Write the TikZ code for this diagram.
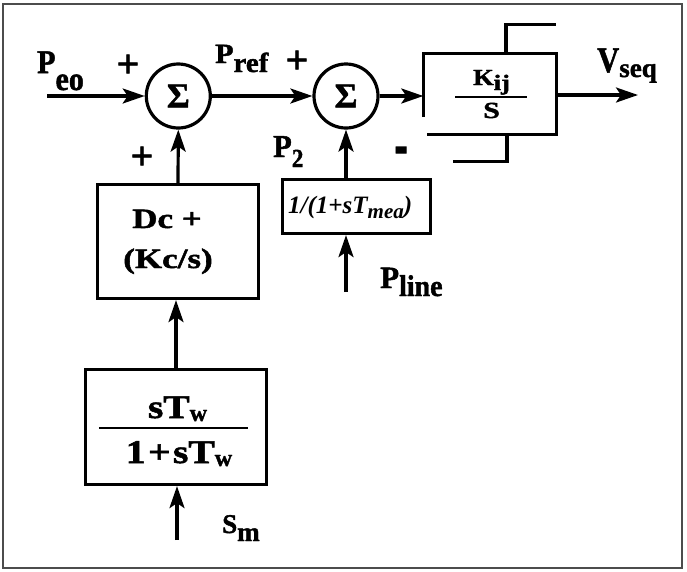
\documentclass[tikz,border=0pt]{standalone}
\usepackage{fontspec}
\setmainfont{Liberation Serif}[BoldFeatures={FakeBold=1.5}]
\usetikzlibrary{arrows.meta,calc}
\newcommand{\fs}[1]{\fontsize{#1}{#1}\selectfont}
% size, xscale, yscale, text
\newcommand{\tx}[4]{\scalebox{#2}[#3]{\fs{#1}\bfseries #4}}
\newcommand{\dn}[2]{\raisebox{-#1pt}{#2}}
\begin{document}
\begin{tikzpicture}[x=1pt,y=-1pt,
  ln/.style={line width=3.2pt},
  arr/.style={ln,-{Stealth[length=22pt,width=15pt,inset=5pt]}},
  blk/.style={draw,ln,rectangle,inner sep=0pt},
  sumn/.style={draw,ln,circle,inner sep=0pt,minimum size=64pt,font=\fs{35}\bfseries},
  txt/.style={inner sep=0pt},
  sgn/.style={inner sep=0pt,font=\fs{40}\bfseries}
]
\useasboundingbox (0,0) rectangle (687,571);
\draw[line width=1.8pt, black!70] (3,4) rectangle (682,568);

% summing junctions
\node[sumn] (s1) at (178.3,96) {Σ};
\node[sumn] (s2) at (346,96) {Σ};

% blocks
\node[blk, minimum width=161pt, minimum height=114pt] (dc) at (178,241.5) {};
\node[txt, anchor=base] (dc1) at (167,228) {\tx{28}{1.25}{1}{Dc +}};
\node[txt, anchor=base] (dc2) at (168,268) {\tx{28}{1.25}{1}{(Kc/s)}};

\node[blk, minimum width=181pt, minimum height=115pt] (sw) at (176,427) {};
\node[txt, anchor=base] (swnum) at (177.5,418) {\tx{33}{1.2}{1}{sT}\dn{3}{\tx{24}{1}{1}{w}}};
\node[txt, anchor=base] (swden) at (179,463) {\tx{33}{1.2}{1}{1{\kern2pt}+{\kern2pt}sT}\dn{3}{\tx{24}{1}{1}{w}}};
\draw[line width=2.5pt] ($(sw.west)+(15,1)$) coordinate (swl) -- ($(sw.east)+(-20,1)$) coordinate (swr);

\node[blk, minimum width=148pt, minimum height=54pt] (tm) at (356.5,206.5) {};
\node[txt, anchor=base west] (tmt) at (288,213) {\fs{25}\bfseries\itshape 1/(1+sT\raisebox{-5pt}{\fs{21}mea})};

% integrator with limits
\node[minimum width=133pt, minimum height=80pt, inner sep=0pt] (kij) at (490,94) {};
\draw[ln] ($(kij.south west)+(0,-17)$) -- (kij.north west) -- (kij.north east)
      -- (kij.south east) -- ($(kij.south west)+(4,0)$);
\draw[ln] ($(kij.north)+(16,0)$) -- ++(0,-29) -- ++(50,0);
\draw[ln] ($(kij.south)+(17,0)$) -- ++(0,27) -- ++(-54,0);
\node[txt, anchor=base west] (kn) at (473,85) {\tx{23}{1.15}{1}{K}\dn{5}{\tx{22}{1.2}{1}{ij}}};
\node[txt, anchor=base west] (kd) at (483,118) {\tx{23}{1.3}{1}{S}};
\draw[line width=2.5pt] (455,97) coordinate (kl) -- (527,97) coordinate (kr);

% connectors
\coordinate (peoin) at (47,96);
\draw[arr] (peoin) -- (s1);
\draw[arr] (s1) -- (s2);
\draw[arr] (s2.east) -- (s2.east -| kij.west);
\coordinate (vout) at (638,95);
\draw[arr] (kij.east |- vout) -- (vout);
\draw[arr] (dc.north) -- (s1.south);
\draw[arr] (sw.north) -- (sw.north |- dc.south);
\coordinate (smin) at (177,540);
\draw[arr] (smin) -- (smin |- sw.south);
\draw[arr] (s2.south |- tm.north) -- (s2.south);
\coordinate (plin) at (346,292);
\draw[arr] (plin) -- (plin |- tm.south);

% labels
\node[txt, anchor=base west] (lpeo) at (37,73) {\tx{30}{1}{1.1}{P}\dn{17}{\tx{30}{1}{1.1}{eo}}};
\node[txt, anchor=base west] (lpref) at (215,63) {\tx{30}{1}{0.93}{P}\dn{9}{\tx{29}{1}{0.95}{ref}}};
\node[txt, anchor=base west] (lvseq) at (597,72) {\tx{36}{0.85}{1}{V}\dn{5}{\tx{27}{1}{1}{seq}}};
\node[txt, anchor=base west] (lp2) at (273,157) {\tx{32}{0.95}{1}{P}\dn{10}{\tx{26}{0.9}{1}{2}}};
\node[txt, anchor=base west] (lpline) at (380,288) {\tx{31}{1}{1}{P}\dn{8}{\tx{30}{0.93}{1}{line}}};
\node[txt, anchor=base west] (lsm) at (222,533) {\tx{27}{1}{1}{S}\dn{8}{\tx{27}{1}{1}{m}}};

\node[sgn] (p1) at (128,66) {+};
\node[sgn] (p2) at (142,158) {+};
\node[sgn] (p3) at (297,62) {+};
\node[sgn] (m1) at (401,157) {\scalebox{1}[1.8]{-}};
\end{tikzpicture}
\end{document}
